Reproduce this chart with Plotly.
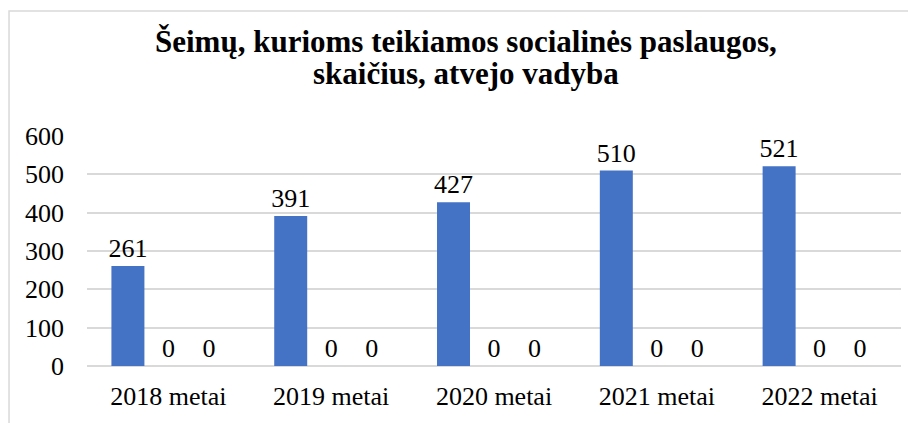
import plotly.graph_objects as go

# categories and series
years = ["2018 metai", "2019 metai", "2020 metai", "2021 metai", "2022 metai"]
families = [261, 391, 427, 510, 521]
series_two = [0, 0, 0, 0, 0]
series_three = [0, 0, 0, 0, 0]

title_line1 = "Šeimų, kurioms teikiamos socialinės paslaugos,"
title_line2 = "skaičius, atvejo vadyba"

serif = "Liberation Serif, Times New Roman, serif"

fig = go.Figure()

# three series per year, only the first one has values
for vals, color in [(families, "#4472C4"), (series_two, "#ED7D31"), (series_three, "#A5A5A5")]:
    fig.add_trace(
        go.Bar(
            x=years,
            y=vals,
            marker=dict(color=color, line=dict(width=0)),
            text=[str(v) for v in vals],
            textposition="outside",
            constraintext="none",
            textfont=dict(family=serif, size=26, color="black"),
            cliponaxis=False,
            hoverinfo="none",
        )
    )

# title as two annotations so the line spacing stays tight
for txt, ypos in [(title_line1, 1.413), (title_line2, 1.270)]:
    fig.add_annotation(
        text="<b>" + txt + "</b>",
        xref="paper", yref="paper",
        x=0.4656, y=ypos,
        xanchor="center", yanchor="middle",
        showarrow=False,
        font=dict(family=serif, size=31, color="black"),
    )

# outer chart border (light gray frame)
fig.add_shape(
    type="rect",
    xref="paper", yref="paper",
    x0=-0.0958, y0=-1.0, x1=1.2, y1=1.543,
    line=dict(color="#d9d9d9", width=1.5),
    fillcolor="rgba(0,0,0,0)",
    layer="below",
)

# page body adds ~8px margin, so the figure is a bit smaller and shifted
fig.update_layout(
    width=908,
    height=415,
    margin=dict(l=79, r=15, t=128, b=57),
    paper_bgcolor="white",
    plot_bgcolor="white",
    barmode="group",
    bargap=0.254,
    bargroupgap=0.185,
    showlegend=False,
    font=dict(family=serif, size=26, color="black"),
)

fig.update_xaxes(
    showgrid=False,
    showline=False,
    ticks="",
    tickfont=dict(family=serif, size=26, color="black"),
    ticklabelstandoff=12,
)

fig.update_yaxes(
    range=[0, 600],
    dtick=100,
    showgrid=True,
    gridcolor="#d9d9d9",
    gridwidth=1.5,
    zeroline=True,
    zerolinecolor="#d9d9d9",
    zerolinewidth=1.5,
    showline=False,
    ticks="",
    tickfont=dict(family=serif, size=26, color="black"),
    ticklabelstandoff=22,
)

fig.write_html("out.html")
